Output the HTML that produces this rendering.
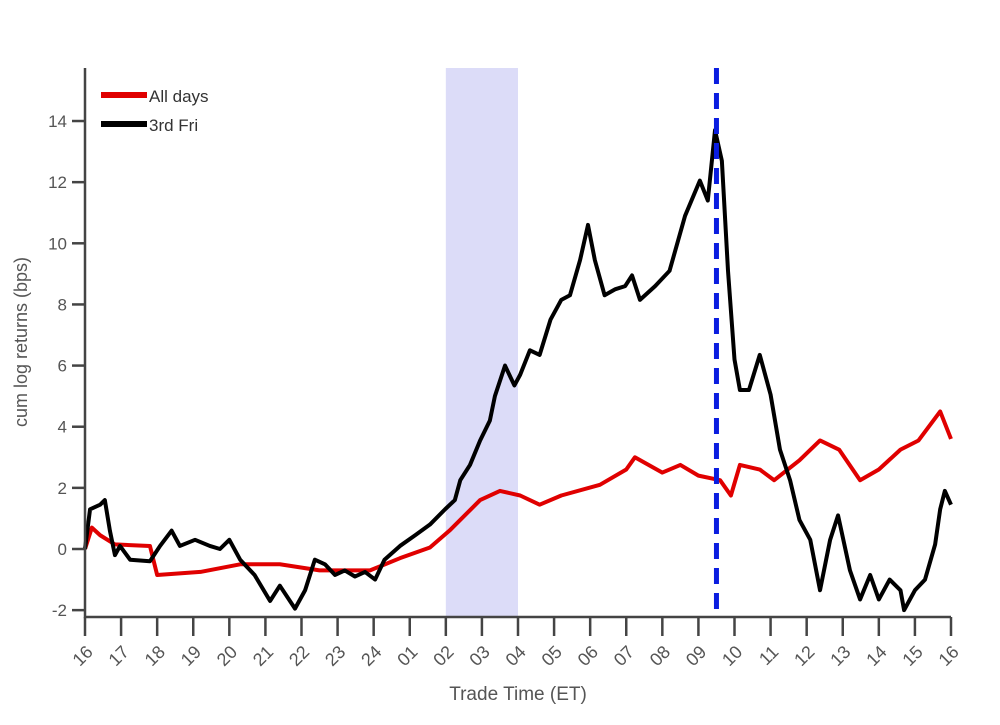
<!DOCTYPE html>
<html><head><meta charset="utf-8"><style>
body{margin:0;background:#fff;width:1000px;height:720px;overflow:hidden}
svg{font-family:"Liberation Sans",sans-serif}
</style></head><body>
<svg id="chart" width="1000" height="720">
<g id="plot"></g>
</svg>
<script>
const xTickLabels=["16","17","18","19","20","21","22","23","24","01","02","03","04","05","06","07","08","09","10","11","12","13","14","15","16"];
const yTicks=[-2,0,2,4,6,8,10,12,14];
const shadeStart=10, shadeEnd=12, eventTime=17.5;
const blackT=[0,0.14,0.42,0.55,0.69,0.83,0.97,1.25,1.8,2.08,2.4,2.63,3.05,3.46,3.74,4.0,4.3,4.7,5.13,5.4,5.82,6.1,6.37,6.65,6.93,7.2,7.48,7.76,8.04,8.3,8.73,9.15,9.56,9.98,10.25,10.4,10.67,10.95,11.22,11.36,11.64,11.9,12.06,12.33,12.6,12.9,13.2,13.44,13.72,13.94,14.13,14.4,14.7,14.97,15.16,15.38,15.8,16.2,16.63,17.04,17.26,17.46,17.65,17.82,18.0,18.15,18.4,18.7,19.0,19.26,19.54,19.8,20.1,20.37,20.65,20.87,21.2,21.48,21.76,22.0,22.3,22.6,22.7,23.0,23.28,23.56,23.7,23.83,24.0];
const blackV=[0,1.3,1.45,1.6,0.6,-0.2,0.1,-0.35,-0.4,0.1,0.6,0.1,0.3,0.1,0,0.3,-0.35,-0.85,-1.7,-1.2,-1.95,-1.35,-0.35,-0.5,-0.85,-0.7,-0.9,-0.75,-1.0,-0.35,0.1,0.45,0.8,1.3,1.6,2.25,2.75,3.55,4.2,5.0,6.0,5.35,5.7,6.5,6.35,7.5,8.15,8.3,9.45,10.6,9.45,8.3,8.5,8.6,8.95,8.15,8.6,9.1,10.9,12.05,11.4,13.7,12.7,9.1,6.2,5.2,5.2,6.35,5.05,3.25,2.25,0.95,0.3,-1.35,0.3,1.1,-0.7,-1.65,-0.85,-1.65,-1.0,-1.35,-2.0,-1.35,-1.0,0.15,1.3,1.9,1.45];
const redT=[0,0.19,0.42,0.83,1.8,2.0,3.2,4.3,5.4,6.5,7.9,8.73,9.56,10.1,10.95,11.5,12.06,12.6,13.2,14.27,15,15.24,16.0,16.5,17,17.6,17.9,18.15,18.7,19.1,19.8,20.37,20.9,21.48,22.0,22.6,23.1,23.7,24];
const redV=[0,0.7,0.45,0.15,0.1,-0.85,-0.75,-0.5,-0.5,-0.7,-0.7,-0.3,0.05,0.6,1.6,1.9,1.75,1.45,1.75,2.1,2.6,3.0,2.5,2.75,2.4,2.25,1.75,2.75,2.6,2.25,2.9,3.55,3.25,2.25,2.6,3.25,3.55,4.5,3.6];

const NS="http://www.w3.org/2000/svg";
const g=document.getElementById('plot');
const X0=85,X1=951,Y0=549,PY=30.57;
const xs=t=>X0+t*(X1-X0)/24;
const ys=v=>Y0-v*PY;
function el(tag,attrs,parent){const e=document.createElementNS(NS,tag);for(const k in attrs)e.setAttribute(k,attrs[k]);(parent||g).appendChild(e);return e;}

const sh=el('rect',{x:xs(shadeStart),y:68,width:xs(shadeEnd)-xs(shadeStart),height:549,fill:'#dcdcf8'});



function line(T,V,color,name){
  const p=el('polyline',{points:T.map((t,i)=>xs(t)+','+ys(V[i])).join(' '),fill:'none',stroke:color,'stroke-width':4,'stroke-linejoin':'round'});
  
  
}
line(redT,redV,'#e00000','series-all-days');
line(blackT,blackV,'#000','series-3rd-fri');

const ev=el('line',{x1:xs(eventTime),x2:xs(eventTime),y1:68,y2:617,stroke:'#0a1de0','stroke-width':5,'stroke-dasharray':'16,9'});



const ax=el('path',{d:`M${X0},68 V617 H${X1}`,fill:'none',stroke:'#444','stroke-width':2.5});


yTicks.forEach(v=>{
  el('line',{x1:X0-13,x2:X0,y1:ys(v),y2:ys(v),stroke:'#444','stroke-width':2.5});
  const t=el('text',{x:X0-18,y:ys(v)+6,'text-anchor':'end','font-size':17,fill:'#555'});
  t.textContent=v;
  
  
});
xTickLabels.forEach((s,i)=>{
  const x=xs(i);
  el('line',{x1:x,x2:x,y1:617,y2:636,stroke:'#444','stroke-width':2.5});
  const t=el('text',{x:x+9,y:653,'text-anchor':'end','font-size':18,fill:'#555',transform:`rotate(-45 ${x+9} 653)`});
  t.textContent=s;
  
  
});
const xt=el('text',{x:518,y:700,'text-anchor':'middle','font-size':19,fill:'#555'});
xt.textContent='Trade Time (ET)';


const yt=el('text',{x:27,y:342,'text-anchor':'middle','font-size':18,fill:'#555',transform:'rotate(-90 27 342)'});
yt.textContent='cum log returns (bps)';



const lg=el('g',{});


el('line',{x1:101,x2:147,y1:95,y2:95,stroke:'#e00000','stroke-width':6},lg);
el('line',{x1:101,x2:147,y1:124,y2:124,stroke:'#000','stroke-width':6},lg);
const l1=el('text',{x:149,y:102,'font-size':17,fill:'#333'},lg);l1.textContent='All days';


const l2=el('text',{x:149,y:131,'font-size':17,fill:'#333'},lg);l2.textContent='3rd Fri';


</script>
</body></html>
